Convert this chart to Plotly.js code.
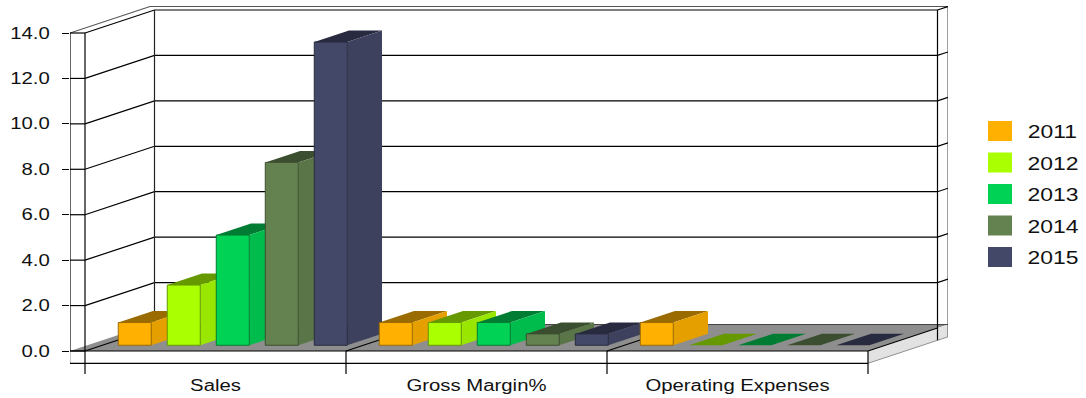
<!DOCTYPE html>
<html>
<head>
<meta charset="utf-8">
<script src="https://cdn.plot.ly/plotly-3.0.1.min.js"></script>
<style>html,body{margin:0;padding:0;background:#fff}</style>
</head>
<body>
<div id="chart" style="width:1086px;height:398px"></div>
<script>
// Chart values
const categories = ['Sales', 'Gross Margin%', 'Operating Expenses'];
const years = ['2011', '2012', '2013', '2014', '2015'];
const sales = [1.0, 2.65, 4.85, 8.05, 13.35];
const grossMargin = [1.0, 1.0, 1.0, 0.5, 0.5];
const operatingExpenses = [1.0, 0, 0, 0, 0];
const yTicks = [0, 2, 4, 6, 8, 10, 12, 14];

// Face colours per year: front, side, top, outline
const frontColors = ['#ffb000', '#aaff00', '#00d255', '#648250', '#444868'];
const sideColors = ['#e5a000', '#99e600', '#00bc4c', '#5a7548', '#3d415e'];
const topColors = ['#996b00', '#669900', '#007d32', '#3c4e30', '#282b3f'];

const groups = [sales, grossMargin, operatingExpenses];

// Plot frame and scales: one x unit is one category, one y unit is one value unit
const W = 1086, H = 398;
const M = {l: 70, r: 138, t: 6, b: 24};
const X_UNIT = 261, Y_UNIT = 22.714, ORIGIN_X = 85, ORIGIN_Y = 351;
const xRange = [(M.l - ORIGIN_X) / X_UNIT, (W - M.r - ORIGIN_X) / X_UNIT];
const yRange = [(ORIGIN_Y - (H - M.b)) / Y_UNIT, (ORIGIN_Y - M.t) / Y_UNIT];

// Oblique projection: depth 0 is the front plane, depth 1 the back wall
const DX = 69.5 / X_UNIT, DY = 23 / Y_UNIT;
const OUTER = 80 / 69.5;          // depth of the outer shell
const SHELL_X = -15 / X_UNIT;     // left thickness of the shell
const SLAB = -12.3 / Y_UNIT;      // thickness of the floor slab
const pt = (x, y, d) => [x + d * DX, y + d * DY];

const traces = [];
function poly(points, fill, line, lw) {
  traces.push({
    type: 'scatter', mode: lw ? 'lines' : 'none', fill: 'toself', fillcolor: fill,
    x: points.concat([points[0]]).map(p => p[0]),
    y: points.concat([points[0]]).map(p => p[1]),
    line: {color: line || fill, width: lw || 0},
    hoverinfo: 'skip', showlegend: false, cliponaxis: false
  });
}
function path(points, color, width) {
  traces.push({
    type: 'scatter', mode: 'lines',
    x: points.map(p => p[0]), y: points.map(p => p[1]),
    line: {color: color, width: width},
    hoverinfo: 'skip', showlegend: false, cliponaxis: false
  });
}

const nCat = categories.length;
const yTop = yTicks[yTicks.length - 1];
const LINE = 1.2;

// Floor, slab side
poly([[SHELL_X, 0], pt(SHELL_X, 0, OUTER), pt(nCat, 0, OUTER), [nCat, 0]], '#8e8e8e');
poly([[nCat, 0], pt(nCat, 0, OUTER), pt(nCat, SLAB, OUTER), [nCat, SLAB]], '#e2e2e2');
path([[nCat, SLAB], pt(nCat, SLAB, OUTER)], '#777777', 0.8);

// Outer shell
path([[SHELL_X, yTop], pt(SHELL_X, yTop, OUTER), pt(nCat, yTop, OUTER), pt(nCat, 0, OUTER), pt(nCat, SLAB, OUTER)], '#555555', 1.1);
path([pt(SHELL_X, 0, OUTER), pt(nCat, 0, OUTER)], '#444444', 1);

// Walls: gridlines run along the back wall, down the left wall and across the right rim
yTicks.forEach(v => {
  if (v > 0) {
    path([[0, v], pt(0, v, 1), pt(nCat, v, 1), pt(nCat, v, OUTER)], '#000000', LINE);
  }
});
path([pt(0, 0, 1), pt(0, yTop, 1)], '#222222', LINE);
path([pt(nCat, SLAB, 1), pt(nCat, yTop, 1)], '#000000', LINE);

// Category dividers on the floor
for (let i = 0; i <= nCat; i++) {
  path([[i, 0], pt(i, 0, 1)], '#000000', LINE);
}

// Bars: painted group by group, left to right, each one top, side, front
const BAR_GAP = 15.9 / X_UNIT, BAR_STEP = 49 / X_UNIT, BAR_W = 33 / X_UNIT;
const D0 = 0.25, D1 = 0.75;
groups.forEach((values, g) => {
  values.forEach((v, s) => {
    const xa = g + BAR_GAP + s * BAR_STEP, xb = xa + BAR_W;
    if (v === 0) {
      poly([pt(xa, 0, D0), pt(xb, 0, D0), pt(xb, 0, D1), pt(xa, 0, D1)], topColors[s]);
      return;
    }
    poly([pt(xa, v, D0), pt(xb, v, D0), pt(xb, v, D1), pt(xa, v, D1)], topColors[s]);
    poly([pt(xb, 0, D0), pt(xb, 0, D1), pt(xb, v, D1), pt(xb, v, D0)], sideColors[s]);
    poly([pt(xa, 0, D0), pt(xb, 0, D0), pt(xb, v, D0), pt(xa, v, D0)], frontColors[s], topColors[s], 1);
  });
});

// Front of the base and the axis posts
path([[SHELL_X, yTop], [SHELL_X, 0]], '#000000', LINE);
path([[SHELL_X, 0], [SHELL_X, SLAB]], '#777777', 0.8);
path([[0, yTop], [0, -32 / Y_UNIT]], '#000000', LINE);
yTicks.forEach(v => path([[SHELL_X, v], [0, v]], '#000000', LINE));
path([[SHELL_X, 0], [nCat, 0]], '#000000', LINE);
path([[SHELL_X, SLAB], [nCat, SLAB]], '#000000', LINE);
for (let i = 1; i <= nCat; i++) {
  path([[i, 0], [i, -32 / Y_UNIT]], '#000000', LINE);
}

// Year key to the right of the plot
const paperX = px => (px - M.l) / (W - M.l - M.r);
const paperY = py => 1 - (py - M.t) / (H - M.t - M.b);
const KEY_STEP = 31.5;
const shapes = years.map((y, i) => ({
  type: 'rect', xref: 'paper', yref: 'paper', layer: 'above',
  x0: paperX(988), x1: paperX(1012),
  y0: paperY(121 + i * KEY_STEP), y1: paperY(141 + i * KEY_STEP),
  fillcolor: frontColors[i], line: {width: 0}
}));
const annotations = years.map((y, i) => ({
  text: y, xref: 'paper', yref: 'paper', showarrow: false,
  x: paperX(1052.5), y: paperY(132 + i * KEY_STEP),
  xanchor: 'center', yanchor: 'middle',
  font: {family: 'Liberation Sans, Arial, sans-serif', size: 18, color: '#111111'}
}));

const axisFont = {family: 'Liberation Sans, Arial, sans-serif', size: 16, color: '#111111'};
const layout = {
  width: W, height: H, margin: M, showlegend: false,
  paper_bgcolor: '#ffffff', plot_bgcolor: 'rgba(0,0,0,0)',
  xaxis: {
    range: xRange, tickmode: 'array', tickvals: categories.map((c, i) => i + 0.5), ticktext: categories,
    showgrid: false, zeroline: false, showline: false, ticks: '', tickfont: axisFont,
    ticklabelstandoff: 0, fixedrange: true
  },
  yaxis: {
    range: yRange, tickmode: 'array', tickvals: yTicks, tickformat: '.1f',
    showgrid: false, zeroline: false, showline: false, ticks: 'outside', ticklen: 7,
    tickcolor: '#000000', tickwidth: 1, tickfont: axisFont, ticklabelstandoff: 9, fixedrange: true
  },
  shapes: shapes, annotations: annotations
};

// The type on this chart is set wide: widen each label's glyphs by the same factor
const TEXT_WIDEN = 1.27;
Plotly.newPlot('chart', traces, layout, {displayModeBar: false, staticPlot: true}).then(gd => {
  gd.querySelectorAll('.xtick text, .ytick text, .annotation-text').forEach(t => {
    const len = t.getComputedTextLength();
    t.setAttribute('textLength', (len * TEXT_WIDEN).toFixed(1));
    t.setAttribute('lengthAdjust', 'spacingAndGlyphs');
  });
});
</script>
</body>
</html>
